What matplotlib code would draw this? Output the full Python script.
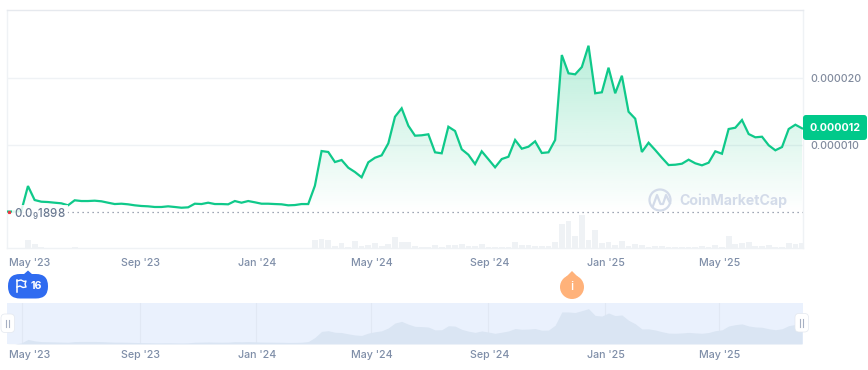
import numpy as np
import pandas as pd
import matplotlib
matplotlib.use('Agg')
import matplotlib.pyplot as plt
import matplotlib.dates as mdates
from matplotlib.patches import Circle, FancyBboxPatch, Polygon
from matplotlib.ticker import FuncFormatter
from matplotlib.transforms import ScaledTranslation

plt.rcParams['font.family'] = ['Inter', 'DejaVu Sans']
plt.rcParams['font.weight'] = 'medium'
plt.rcParams['mathtext.default'] = 'regular'

# weekly price, in millionths
price = [0.07, 0.07, 0.15, 3.88, 1.79, 1.54, 1.49, 1.39, 1.30, 1.00,
         1.75, 1.64, 1.64, 1.69, 1.60, 1.39, 1.19, 1.24, 1.15, 1.00,
         0.90, 0.85, 0.75, 0.75, 0.85, 0.75, 0.64, 0.70, 1.24, 1.19,
         1.39, 1.19, 1.19, 1.15, 1.64, 1.39, 1.64, 1.45, 1.24, 1.24,
         1.19, 1.15, 1.00, 1.04, 1.19, 1.19, 3.93, 9.10, 8.96, 7.46,
         7.76, 6.61, 5.97, 5.18, 7.42, 8.10, 8.46, 10.25, 14.22, 15.48,
         12.88, 11.39, 11.45, 11.60, 8.91, 8.76, 12.73, 12.09, 9.36, 8.55,
         7.16, 9.06, 7.87, 6.67, 7.91, 8.25, 10.75, 9.45, 9.75, 10.55,
         8.81, 8.91, 10.75, 23.43, 20.70, 20.55, 21.64, 24.82, 17.72, 17.87,
         21.54, 17.72, 20.34, 14.97, 13.93, 8.96, 10.34, 9.25, 8.10, 7.01,
         7.06, 7.21, 7.81, 7.27, 6.97, 7.36, 9.06, 8.70, 12.39, 12.58,
         13.73, 11.64, 11.15, 11.24, 9.96, 9.21, 9.70, 12.39, 13.03, 12.49]

volume = [0, 0, 0, 7.7, 4.3, 1.0, 0.4, 0.3, 0.3, 0.3,
          1.0, 0.3, 0.3, 0.3, 0.3, 0.3, 0.3, 0.3, 0.3, 0.3,
          0.3, 0.3, 0.3, 0.3, 0.3, 0.3, 0.3, 0.3, 0.3, 0.3,
          0.3, 0.3, 0.3, 0.3, 0.3, 0.3, 0.3, 0.3, 0.3, 0.3,
          0.3, 0.3, 0.3, 0.3, 0.3, 0.3, 8.0, 9.3, 8.0, 2.3,
          5.0, 0.7, 7.0, 2.3, 3.3, 5.0, 2.3, 4.0, 11.0, 6.3,
          6.0, 2.3, 1.3, 1.0, 3.0, 1.3, 3.0, 3.3, 4.0, 2.3,
          2.3, 4.0, 1.3, 1.3, 1.0, 1.3, 6.0, 3.3, 3.3, 2.3,
          2.3, 1.7, 6.0, 24.3, 27.3, 12.3, 33.3, 8.3, 18.3, 5.3,
          6.3, 3.3, 7.3, 2.0, 4.3, 3.3, 1.3, 2.0, 2.0, 1.0,
          1.0, 1.0, 1.0, 1.0, 2.0, 1.3, 3.0, 1.3, 12.3, 4.3,
          5.3, 6.3, 2.3, 2.3, 3.3, 1.3, 1.3, 5.3, 4.3, 5.3]

tick_dates = ['2023-05-01', '2023-09-01', '2024-01-01', '2024-05-01',
              '2024-09-01', '2025-01-01', '2025-05-01']
tick_labels = ["May '23", "Sep '23", "Jan '24", "May '24", "Sep '24", "Jan '25", "May '25"]
price_ticks = [0.000010, 0.000020]
baseline_price = 0.0000000001898

dates = pd.date_range('2023-04-16', periods=len(price), freq='7D')
values = np.array(price) * 1e-6
ticks = pd.to_datetime(tick_dates)
xlim = (pd.Timestamp('2023-04-15'), pd.Timestamp('2025-07-28'))

GREEN = '#16c784'
GREY = '#808a9d'
W, H = 868, 370


def make_axes(fig, left, top, right, bottom):
    return fig.add_axes([left / W, 1 - bottom / H, (right - left) / W, (bottom - top) / H])


def date_labels(axis, pad):
    axis.set_xticks(ticks)
    axis.set_xticklabels(tick_labels)
    axis.tick_params(axis='x', length=0, pad=pad, labelsize=7.7, labelcolor='#7f8ea8')
    # first label sits right of its tick so it is not cut off
    lab = axis.get_xticklabels()[0]
    lab.set_transform(lab.get_transform() + ScaledTranslation(7 / 100, 0, fig.dpi_scale_trans))
    # the others sit a little right of their gridlines too
    for lab in axis.get_xticklabels()[1:]:
        lab.set_transform(lab.get_transform() + ScaledTranslation(1 / 100, 0, fig.dpi_scale_trans))


fig = plt.figure(figsize=(8.68, 3.7), dpi=100, facecolor='white')

# main chart
ax = make_axes(fig, 7, 10, 803, 248)
vol = ax.twinx()
ax.set_zorder(vol.get_zorder() + 1)
ax.patch.set_visible(False)
vol.bar(dates, volume, width=6, color='#eff2f5')
vol.set_ylim(0, 238)
vol.set_yticks([])
for s in vol.spines.values():
    s.set_visible(False)

ax.set_xlim(xlim)
ax.set_ylim(-5.37e-6, 30.15e-6)
ax.grid(axis='y', color='#eff2f5', lw=1)
ax.set_axisbelow(True)
for name, s in ax.spines.items():
    s.set_color('#e6e9ee' if name == 'top' else '#eff2f5')
    s.set_linewidth(1)

# gradient under the line, clipped to the price area
area = ax.fill_between(dates, values, baseline_price, color='none', lw=0)
grad = np.zeros((256, 2, 4))
grad[..., :3] = matplotlib.colors.to_rgb(GREEN)
grad[..., 3] = np.linspace(0.30, 0.0, 256)[:, None]
img = ax.imshow(grad, aspect='auto', zorder=1,
                extent=(mdates.date2num(xlim[0]), mdates.date2num(xlim[1]), baseline_price, max(values)))
img.set_clip_path(area.get_paths()[0], transform=ax.transData)
ax.set_xlim(xlim)
ax.set_ylim(-5.37e-6, 30.15e-6)

ax.plot(dates, values, color='#0fc98a', lw=1.6, zorder=3, solid_joinstyle='miter')
ax.axhline(baseline_price, color=GREY, lw=0.9, dashes=(1, 3), zorder=2)

ax.yaxis.tick_right()
ax.set_yticks(price_ticks)
ax.yaxis.set_major_formatter(FuncFormatter(lambda v, p: f'{v:.6f}'))
ax.tick_params(axis='y', length=0, pad=5, labelsize=7.7, labelcolor=GREY)
date_labels(ax, 7.5)

# navigator
nav = make_axes(fig, 7, 303, 803, 344)
nav.set_facecolor('#eaf1fd')
smooth = np.convolve(price, [0.15, 0.7, 0.15], mode='same')
smooth[[0, -1]] = [price[0], price[-1]]
nav.fill_between(dates, smooth, 0, color='#dae5f3', lw=0, zorder=2)
nav.set_xlim(xlim)
nav.set_ylim(0, 27)
nav.set_yticks([])
nav.grid(axis='x', color='#e1e8f4', lw=0.8)
nav.set_axisbelow(True)
for s in nav.spines.values():
    s.set_visible(False)
date_labels(nav, 4)

# overlay in pixel coordinates for tag, pins, handles and watermark
top = fig.add_axes([0, 0, 1, 1], zorder=10)
top.set_xlim(0, W)
top.set_ylim(H, 0)
top.axis('off')

top.text(14, 214, '0.0$_{9}$1898', fontsize=8.3, color='#6b7a92', va='center',
         bbox=dict(boxstyle='square,pad=0.15', fc='white', ec='none', alpha=0.85))
top.plot([8.7], [212], 's', ms=1.3, color='#ea3943')

top.add_patch(FancyBboxPatch((803, 115), 64, 25, boxstyle='round,pad=0,rounding_size=3', fc='#00c98a', ec='none'))
top.text(835, 128, f'{values[-1]:.6f}', color='white', fontsize=7.7, fontweight='bold', ha='center', va='center')

# flag pin
top.add_patch(FancyBboxPatch((8, 274), 40, 24.5, boxstyle='round,pad=0,rounding_size=12', fc='#2f6bf0', ec='none'))
top.add_patch(Polygon([(23, 275), (28, 270.5), (33, 275)], fc='#2f6bf0', ec='none'))
top.plot([17, 17], [280, 292], color='white', lw=1.1)
top.plot([17, 21, 24, 26, 25, 26, 23, 20, 17], [281, 280, 281.5, 281, 284, 287, 287.5, 286, 287], color='white', lw=1)
top.text(36.5, 286, '16', color='white', fontsize=7.7, fontweight='bold', ha='center', va='center')

# info pin
top.add_patch(Circle((572, 287), 12, fc='#ffb27a', ec='none'))
top.add_patch(Polygon([(566, 277), (572, 271), (578, 277)], fc='#ffb27a', ec='none'))
top.text(572, 287, 'i', color='white', fontsize=9, ha='center', va='center')

# navigator handles
for hx, hy in [(1, 314), (795, 313.5)]:
    top.add_patch(FancyBboxPatch((hx, hy), 13.5, 18.5, boxstyle='round,pad=0,rounding_size=4',
                                 fc='white', ec='#e3e8ef', lw=0.5))
    for off in (5.3, 8.2):
        top.plot([hx + off, hx + off], [hy + 5.5, hy + 13], color='#a6b0c3', lw=0.8)

# watermark
wm = '#d3dbe9'
top.add_patch(Circle((660, 200), 10.5, fc='none', ec=wm, lw=1.6))
top.plot([653, 657, 660.5, 663, 666, 670], [206, 195, 204, 204, 195, 203], color=wm, lw=1.6)
top.text(679, 200.5, 'CoinMarketCap', color=wm, fontsize=10.2, fontweight='bold', va='center')

fig.savefig('out.png', dpi=100)
